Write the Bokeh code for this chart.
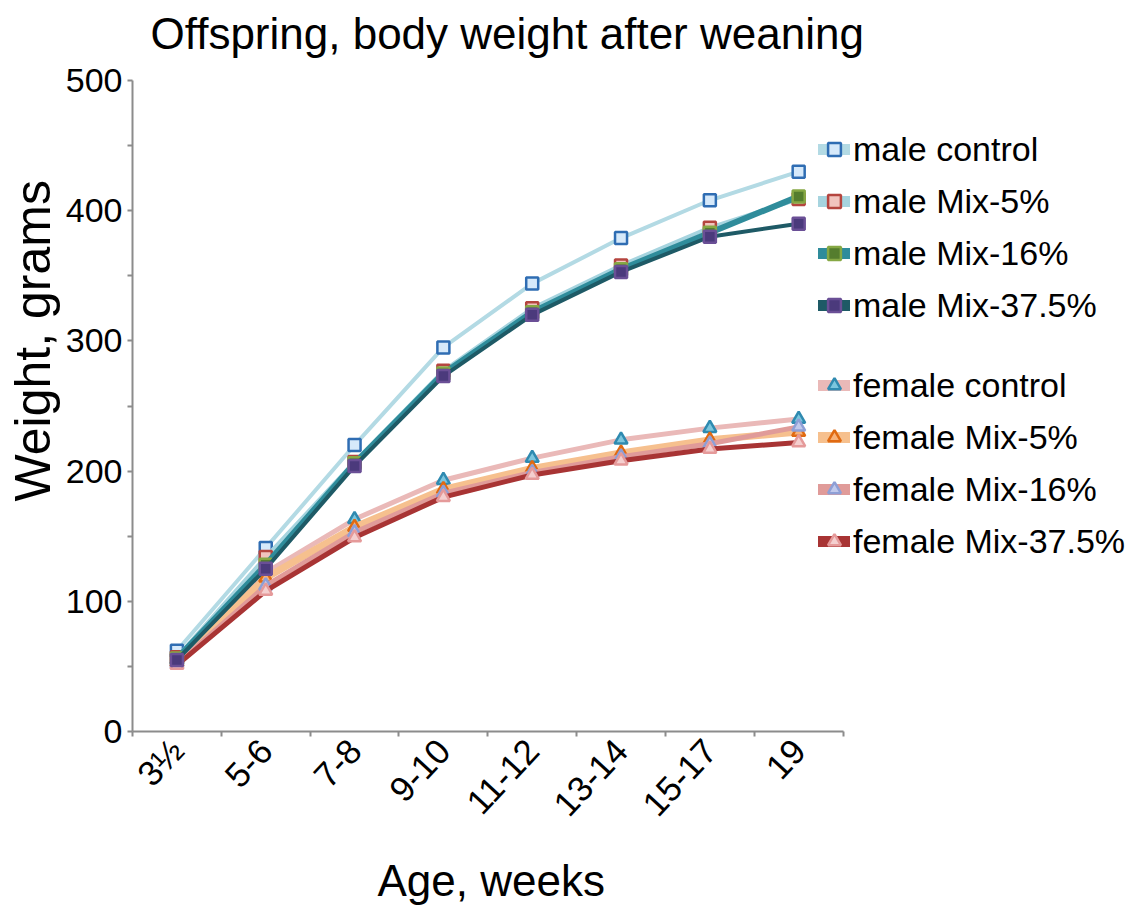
import math
from bokeh.plotting import figure
from bokeh.models import FixedTicker, Legend, LegendItem, Range1d, Title
from bokeh.embed import file_html
from bokeh.resources import INLINE

# ---- data ----
ages = ["3½", "5-6", "7-8", "9-10", "11-12", "13-14", "15-17", "19"]
male_control = [62, 141, 220, 295, 344, 379, 408, 430]
male_mix5 = [57, 134, 207, 277, 325, 358, 387, 409]
male_mix16 = [56, 128, 206, 275, 322, 355, 383, 411]
male_mix375 = [55, 125, 204, 273, 320, 353, 380, 390]
female_control = [55, 122, 163, 193, 210, 224, 233, 240]
female_mix5 = [53, 118, 157, 186, 202, 214, 224, 230]
female_mix16 = [52, 112, 153, 183, 199, 211, 221, 234]
female_mix375 = [51, 108, 149, 180, 197, 208, 217, 222]
male_labels = ["male control", "male Mix-5%", "male Mix-16%", "male Mix-37.5%"]
female_labels = ["female control", "female Mix-5%", "female Mix-16%", "female Mix-37.5%"]
y_ticks = [0, 100, 200, 300, 400, 500]

# ---- styles ----
male_series = [male_control, male_mix5, male_mix16, male_mix375]
female_series = [female_control, female_mix5, female_mix16, female_mix375]
male_line = ["#b3dae4", "#a6d4df", "#2f8c9b", "#1e5a66"]
male_width = [4, 4, 6, 4]
male_edge = ["#2f6db3", "#b5453f", "#86a844", "#6a4f96"]
male_fill = ["#d6e9fa", "#f1c4be", "#557d2e", "#4b3a7c"]
female_line = ["#eab9b8", "#f6c08e", "#e09b99", "#a83434"]
female_width = [5, 7, 5, 5]
female_edge = ["#2f8ab0", "#e06a12", "#8e9fd6", "#e59a9a"]
female_fill = ["#7cc6de", "#f7b27a", "#c1c9ec", "#f4cfcf"]

FONT = "Liberation Sans"
W, H = 1141, 920
LEFT, TOP, AXIS_Y = 130, 80, 731
CAT_PX = 712  # pixel span of the category axis
x = list(range(len(ages)))
frame_w = W - LEFT
x_end = -0.5 + len(ages) * frame_w / CAT_PX

p = figure(width=W, height=H, output_backend="svg", toolbar_location=None,
           x_range=Range1d(-0.5, x_end), y_range=Range1d(0, 500),
           min_border_left=LEFT, min_border_right=0, min_border_top=TOP,
           min_border_bottom=H - AXIS_Y)
p.xgrid.grid_line_color = None
p.ygrid.grid_line_color = None
p.outline_line_color = None
p.background_fill_color = "white"

p.title.text = "Offspring, body weight after weaning"
p.title.align = "left"
p.title.offset = 18
p.title.text_font = FONT
p.title.text_font_size = "44px"
p.title.text_font_style = "normal"
p.title.text_color = "black"
# spacer between title and frame
p.add_layout(Title(text=" ", text_font_size="2px", standoff=14), "above")

# axes
ax = p.xaxis[0]
ax.bounds = (-0.5, len(ages) - 0.5)
ax.ticker = FixedTicker(ticks=x, minor_ticks=[i - 0.5 for i in range(len(ages) + 1)])
ax.major_label_overrides = {i: a for i, a in enumerate(ages)}
ax.major_label_orientation = 0.82
ax.major_tick_out = 0
ax.major_tick_in = 0
ax.minor_tick_out = 5
ax.minor_tick_in = 0
ax.minor_tick_line_color = "#8c8c8c"
ax.minor_tick_line_width = 2
ax.axis_line_color = "#8c8c8c"
ax.axis_line_width = 2
ax.major_label_text_font = FONT
ax.major_label_text_font_size = "35px"
ax.major_label_text_color = "black"
ax.major_label_standoff = 8

ay = p.yaxis[0]
ay.ticker = FixedTicker(ticks=y_ticks, minor_ticks=[t + 50 for t in y_ticks[:-1]])
ay.major_tick_out = 5
ay.major_tick_in = 0
ay.minor_tick_out = 5
ay.minor_tick_in = 0
ay.major_tick_line_color = "#8c8c8c"
ay.minor_tick_line_color = "#8c8c8c"
ay.major_tick_line_width = 2
ay.minor_tick_line_width = 2
ay.axis_line_color = "#8c8c8c"
ay.axis_line_width = 2
ay.major_label_text_font = FONT
ay.major_label_text_font_size = "34px"
ay.major_label_text_color = "black"
ay.major_label_standoff = 5

# axis titles
p.add_layout(Title(text="Weight, grams", align="left", offset=230, standoff=4,
                   text_font=FONT, text_font_size="50px", text_font_style="normal",
                   text_color="black"), "left")
p.add_layout(Title(text="Age, weeks", align="left", offset=245, standoff=28,
                   text_font=FONT, text_font_size="44px", text_font_style="normal",
                   text_color="black"), "below")

# data lines
for vals, lc, lw, ec, fc in zip(female_series, female_line, female_width, female_edge, female_fill):
    p.line(x, vals, line_color=lc, line_width=lw, line_join="round", line_cap="round")
    p.scatter(x, vals, marker="triangle", size=13, line_color=ec, fill_color=fc, line_width=2.5)
for vals, lc, lw, ec, fc in zip(male_series, male_line, male_width, male_edge, male_fill):
    p.line(x, vals, line_color=lc, line_width=lw, line_join="round", line_cap="round")
    p.scatter(x, vals, marker="square", size=12, line_color=ec, fill_color=fc, line_width=2.5)

# legend swatch renderers (hidden on the plot, drawn only in the legend)
def make_items(series, labels, lcols, edges, fills, marker):
    items = []
    for vals, lab, lc, ec, fc in zip(series, labels, lcols, edges, fills):
        ln = p.line(x, vals, line_color=lc, line_width=11, line_cap="round", visible=False)
        mk = p.scatter(x, vals, marker=marker, size=11, line_color=ec, fill_color=fc,
                       line_width=2.5, visible=False)
        items.append(LegendItem(label=lab, renderers=[ln, mk]))
    return items

def style_legend(lg):
    lg.label_text_font = FONT
    lg.label_text_font_size = "34px"
    lg.label_text_color = "black"
    lg.glyph_width = 32
    lg.glyph_height = 52
    lg.label_height = 52
    lg.spacing = 0
    lg.padding = 0
    lg.margin = 0
    lg.border_line_color = None
    lg.background_fill_alpha = 0
    lg.label_standoff = 3
    lg.label_text_baseline = "middle"
    lg.click_policy = "none"
    lg.inactive_fill_alpha = 0

leg_m = Legend(items=make_items(male_series, male_labels, male_line, male_edge, male_fill, "square"),
               location=(686, 400))
leg_f = Legend(items=make_items(female_series, female_labels, female_line, female_edge, female_fill, "triangle"),
               location=(686, 164))
style_legend(leg_m)
style_legend(leg_f)
p.add_layout(leg_m)
p.add_layout(leg_f)

open("out.html", "w").write(file_html(p, INLINE))
